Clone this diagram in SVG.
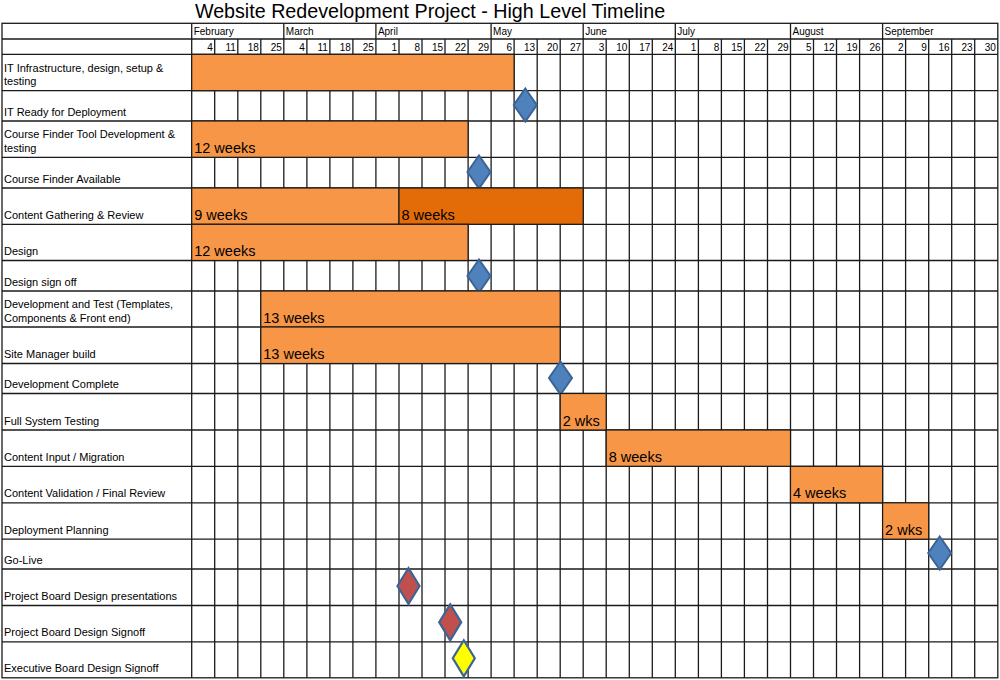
<svg xmlns="http://www.w3.org/2000/svg" width="1000" height="680" viewBox="0 0 1000 680">
<style>
text{font-family:"Liberation Sans",Arial,sans-serif;fill:#000}
.title{font-size:19.7px}
.mon{font-size:10px}
.wk{font-size:10px;text-anchor:end}
.lbl{font-size:11px}
.bt{font-size:14.5px}
.grid line{stroke:#1a1a1a;stroke-width:1.3}
.bar{fill:#F79646;stroke:#1a1a1a;stroke-width:1.2}
.bar2{fill:#E36C09;stroke:#1a1a1a;stroke-width:1.2}
.ms{fill:#4F81BD;stroke:#3A6495;stroke-width:2;stroke-linejoin:miter}
.red{fill:#C0504D;stroke:#3A6495;stroke-width:2.2}
.yel{fill:#FFFF00;stroke:#3A6495;stroke-width:2.2}
</style>
<defs>
<path id="dia" d="M0,-16.5 L11.5,0 L0,16.5 L-11.5,0 Z"/>
<path id="dia2" d="M0,-18 L11,0 L0,18 L-11,0 Z"/>
</defs>
<rect x="0" y="0" width="1000" height="680" fill="#fff"/>
<text class="title" x="430" y="17.5" text-anchor="middle">Website Redevelopment Project - High Level Timeline</text>

<g id="grid" class="grid">
<rect x="2" y="23.3" width="995.8" height="654.5" fill="none" stroke="#1a1a1a" stroke-width="1.3"/>
<line x1="2" y1="39" x2="997.8" y2="39"/>
<line x1="2" y1="54.3" x2="997.8" y2="54.3"/>
<line x1="2" y1="90.7" x2="997.8" y2="90.7"/>
<line x1="2" y1="121" x2="997.8" y2="121"/>
<line x1="2" y1="157.3" x2="997.8" y2="157.3"/>
<line x1="2" y1="188" x2="997.8" y2="188"/>
<line x1="2" y1="224.3" x2="997.8" y2="224.3"/>
<line x1="2" y1="260.5" x2="997.8" y2="260.5"/>
<line x1="2" y1="291" x2="997.8" y2="291"/>
<line x1="2" y1="327" x2="997.8" y2="327"/>
<line x1="2" y1="363.5" x2="997.8" y2="363.5"/>
<line x1="2" y1="393.5" x2="997.8" y2="393.5"/>
<line x1="2" y1="430" x2="997.8" y2="430"/>
<line x1="2" y1="466.3" x2="997.8" y2="466.3"/>
<line x1="2" y1="502.8" x2="997.8" y2="502.8"/>
<line x1="2" y1="539.2" x2="997.8" y2="539.2"/>
<line x1="2" y1="569" x2="997.8" y2="569"/>
<line x1="2" y1="605.5" x2="997.8" y2="605.5"/>
<line x1="2" y1="641.8" x2="997.8" y2="641.8"/>
<!-- label column and month boundaries (full height) -->
<line x1="191.7" y1="23.3" x2="191.7" y2="677.8"/>
<line x1="283.8" y1="23.3" x2="283.8" y2="677.8"/>
<line x1="375.9" y1="23.3" x2="375.9" y2="677.8"/>
<line x1="491.1" y1="23.3" x2="491.1" y2="677.8"/>
<line x1="583.2" y1="23.3" x2="583.2" y2="677.8"/>
<line x1="675.3" y1="23.3" x2="675.3" y2="677.8"/>
<line x1="790.5" y1="23.3" x2="790.5" y2="677.8"/>
<line x1="882.6" y1="23.3" x2="882.6" y2="677.8"/>
<!-- week lines -->
<line x1="214.7" y1="39" x2="214.7" y2="677.8"/>
<line x1="237.8" y1="39" x2="237.8" y2="677.8"/>
<line x1="260.8" y1="39" x2="260.8" y2="677.8"/>
<line x1="306.9" y1="39" x2="306.9" y2="677.8"/>
<line x1="329.9" y1="39" x2="329.9" y2="677.8"/>
<line x1="352.9" y1="39" x2="352.9" y2="677.8"/>
<line x1="399" y1="39" x2="399" y2="677.8"/>
<line x1="422" y1="39" x2="422" y2="677.8"/>
<line x1="445" y1="39" x2="445" y2="677.8"/>
<line x1="468.1" y1="39" x2="468.1" y2="677.8"/>
<line x1="514.1" y1="39" x2="514.1" y2="677.8"/>
<line x1="537.2" y1="39" x2="537.2" y2="677.8"/>
<line x1="560.2" y1="39" x2="560.2" y2="677.8"/>
<line x1="606.2" y1="39" x2="606.2" y2="677.8"/>
<line x1="629.3" y1="39" x2="629.3" y2="677.8"/>
<line x1="652.3" y1="39" x2="652.3" y2="677.8"/>
<line x1="698.4" y1="39" x2="698.4" y2="677.8"/>
<line x1="721.4" y1="39" x2="721.4" y2="677.8"/>
<line x1="744.4" y1="39" x2="744.4" y2="677.8"/>
<line x1="767.5" y1="39" x2="767.5" y2="677.8"/>
<line x1="813.5" y1="39" x2="813.5" y2="677.8"/>
<line x1="836.5" y1="39" x2="836.5" y2="677.8"/>
<line x1="859.6" y1="39" x2="859.6" y2="677.8"/>
<line x1="905.6" y1="39" x2="905.6" y2="677.8"/>
<line x1="928.7" y1="39" x2="928.7" y2="677.8"/>
<line x1="951.7" y1="39" x2="951.7" y2="677.8"/>
<line x1="974.7" y1="39" x2="974.7" y2="677.8"/>
</g>

<g id="months">
<text class="mon" x="193.7" y="35">February</text>
<text class="mon" x="285.8" y="35">March</text>
<text class="mon" x="377.9" y="35">April</text>
<text class="mon" x="493.1" y="35">May</text>
<text class="mon" x="585.2" y="35">June</text>
<text class="mon" x="677.3" y="35">July</text>
<text class="mon" x="792.5" y="35">August</text>
<text class="mon" x="884.6" y="35">September</text>
</g>

<g id="weeks">
<text class="wk" x="212.7" y="50.5">4</text>
<text class="wk" x="235.8" y="50.5">11</text>
<text class="wk" x="258.8" y="50.5">18</text>
<text class="wk" x="281.8" y="50.5">25</text>
<text class="wk" x="304.9" y="50.5">4</text>
<text class="wk" x="327.9" y="50.5">11</text>
<text class="wk" x="350.9" y="50.5">18</text>
<text class="wk" x="373.9" y="50.5">25</text>
<text class="wk" x="397" y="50.5">1</text>
<text class="wk" x="420" y="50.5">8</text>
<text class="wk" x="443" y="50.5">15</text>
<text class="wk" x="466.1" y="50.5">22</text>
<text class="wk" x="489.1" y="50.5">29</text>
<text class="wk" x="512.1" y="50.5">6</text>
<text class="wk" x="535.2" y="50.5">13</text>
<text class="wk" x="558.2" y="50.5">20</text>
<text class="wk" x="581.2" y="50.5">27</text>
<text class="wk" x="604.2" y="50.5">3</text>
<text class="wk" x="627.3" y="50.5">10</text>
<text class="wk" x="650.3" y="50.5">17</text>
<text class="wk" x="673.3" y="50.5">24</text>
<text class="wk" x="696.4" y="50.5">1</text>
<text class="wk" x="719.4" y="50.5">8</text>
<text class="wk" x="742.4" y="50.5">15</text>
<text class="wk" x="765.5" y="50.5">22</text>
<text class="wk" x="788.5" y="50.5">29</text>
<text class="wk" x="811.5" y="50.5">5</text>
<text class="wk" x="834.5" y="50.5">12</text>
<text class="wk" x="857.6" y="50.5">19</text>
<text class="wk" x="880.6" y="50.5">26</text>
<text class="wk" x="903.6" y="50.5">2</text>
<text class="wk" x="926.7" y="50.5">9</text>
<text class="wk" x="949.7" y="50.5">16</text>
<text class="wk" x="972.7" y="50.5">23</text>
<text class="wk" x="995.8" y="50.5">30</text>
</g>

<g id="row-it-infra">
<text class="lbl" x="4" y="71.7">IT Infrastructure, design, setup &amp;</text>
<text class="lbl" x="4" y="85.2">testing</text>
<rect class="bar" x="191.7" y="54.3" width="322.4" height="36.4"/>
</g>
<g id="row-it-ready">
<text class="lbl" x="4" y="115.5">IT Ready for Deployment</text>
<use href="#dia" class="ms" x="525.3" y="105"/>
</g>
<g id="row-course-finder-tool">
<text class="lbl" x="4" y="138.3">Course Finder Tool Development &amp;</text>
<text class="lbl" x="4" y="151.8">testing</text>
<rect class="bar" x="191.7" y="121" width="276.4" height="36.3"/>
<text class="bt" x="194.2" y="152.8">12 weeks</text>
</g>
<g id="row-course-finder-available">
<text class="lbl" x="4" y="182.5">Course Finder Available</text>
<use href="#dia" class="ms" x="479" y="172"/>
</g>
<g id="row-content-gathering">
<text class="lbl" x="4" y="218.8">Content Gathering &amp; Review</text>
<rect class="bar" x="191.7" y="188" width="207.3" height="36.3"/>
<rect class="bar2" x="399" y="188" width="184.2" height="36.3"/>
<text class="bt" x="194.2" y="219.8">9 weeks</text>
<text class="bt" x="401.5" y="219.8">8 weeks</text>
</g>
<g id="row-design">
<text class="lbl" x="4" y="255">Design</text>
<rect class="bar" x="191.7" y="224.3" width="276.4" height="36.2"/>
<text class="bt" x="194.2" y="256">12 weeks</text>
</g>
<g id="row-design-signoff">
<text class="lbl" x="4" y="285.5">Design sign off</text>
<use href="#dia" class="ms" x="479" y="276"/>
</g>
<g id="row-dev-test">
<text class="lbl" x="4" y="308">Development and Test (Templates,</text>
<text class="lbl" x="4" y="321.5">Components &amp; Front end)</text>
<rect class="bar" x="260.8" y="291" width="299.4" height="36"/>
<text class="bt" x="263.3" y="322.5">13 weeks</text>
</g>
<g id="row-site-manager">
<text class="lbl" x="4" y="358">Site Manager build</text>
<rect class="bar" x="260.8" y="327" width="299.4" height="36.5"/>
<text class="bt" x="263.3" y="359">13 weeks</text>
</g>
<g id="row-dev-complete">
<text class="lbl" x="4" y="388">Development Complete</text>
<use href="#dia" class="ms" x="560.5" y="378"/>
</g>
<g id="row-full-system-testing">
<text class="lbl" x="4" y="424.5">Full System Testing</text>
<rect class="bar" x="560.2" y="393.5" width="46" height="36.5"/>
<text class="bt" x="562.7" y="425.5">2 wks</text>
</g>
<g id="row-content-input">
<text class="lbl" x="4" y="460.8">Content Input / Migration</text>
<rect class="bar" x="606.2" y="430" width="184.3" height="36.3"/>
<text class="bt" x="608.7" y="461.8">8 weeks</text>
</g>
<g id="row-content-validation">
<text class="lbl" x="4" y="497.3">Content Validation / Final Review</text>
<rect class="bar" x="790.5" y="466.3" width="92.1" height="36.5"/>
<text class="bt" x="793" y="498.3">4 weeks</text>
</g>
<g id="row-deployment-planning">
<text class="lbl" x="4" y="533.7">Deployment Planning</text>
<rect class="bar" x="882.6" y="502.8" width="46.1" height="36.4"/>
<text class="bt" x="885.1" y="534.7">2 wks</text>
</g>
<g id="row-go-live">
<text class="lbl" x="4" y="563.5">Go-Live</text>
<use href="#dia" class="ms" x="939.7" y="553"/>
</g>
<g id="row-pb-presentations">
<text class="lbl" x="4" y="600">Project Board Design presentations</text>
<use href="#dia2" class="red" x="408.5" y="586"/>
</g>
<g id="row-pb-signoff">
<text class="lbl" x="4" y="636.3">Project Board Design Signoff</text>
<use href="#dia2" class="red" x="450.2" y="622.3"/>
</g>
<g id="row-exec-signoff">
<text class="lbl" x="4" y="672.3">Executive Board Design Signoff</text>
<use href="#dia2" class="yel" x="463.8" y="658.3"/>
</g>
</svg>
